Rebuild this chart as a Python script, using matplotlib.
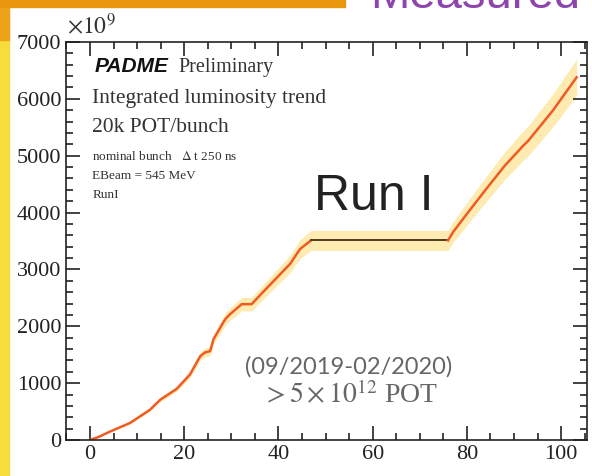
import matplotlib.pyplot as plt
import numpy as np
from matplotlib.patches import Rectangle
from matplotlib.ticker import MultipleLocator

plt.rcParams['font.family'] = ['Liberation Serif', 'DejaVu Serif']
plt.rcParams['mathtext.fontset'] = 'stix'

# integrated luminosity (x10^9 POT) vs time
days = [0, 2, 4.2, 8.5, 12.7, 14.9, 18.4, 21.2, 23.4, 24.4, 25.5, 26.2,
        28.7, 29.7, 32.2, 34.3, 36.7, 39.6, 42.5, 44.6, 46.9]
lumi = [0, 60, 147, 300, 530, 708, 900, 1150, 1474, 1540, 1563, 1770,
        2124, 2212, 2389, 2389, 2600, 2850, 3100, 3360, 3510]
# shutdown plateau
plateau_days = [46.9, 76.0]
plateau_lumi = [3510, 3510]
# restart
days2 = [76.0, 77.1, 80.5, 84.2, 88.0, 92.0, 93.0, 98.3, 103.3]
lumi2 = [3510, 3660, 4030, 4425, 4820, 5180, 5260, 5800, 6380]
rel_err = 0.05

fig = plt.figure(figsize=(5.92, 4.76), dpi=100)

# slide decoration
fig.patches.append(Rectangle((0, 0), 9 / 592, 1, transform=fig.transFigure,
                             color='#F8DC3C', zorder=0))
fig.patches.append(Rectangle((0, 1 - 40 / 476), 9 / 592, 40 / 476,
                             transform=fig.transFigure, color='#EEA21A', zorder=0))
fig.patches.append(Rectangle((0, 1 - 7 / 476), 345 / 592, 7 / 476,
                             transform=fig.transFigure, color='#E8960C', zorder=0))
fig.text(370 / 592, 1 - 8 / 476, 'Measured', color='#8E44AD', fontsize=34,
         family='Liberation Sans', ha='left', va='baseline')

ax = fig.add_axes([66 / 592, 36 / 476, 521 / 592, 398 / 476])

# error band over the full run
band_x = np.array(days + plateau_days + days2)
band_y = np.array(lumi + plateau_lumi + lumi2)
ax.fill_between(band_x, band_y * (1 - rel_err), band_y * (1 + rel_err),
                color='#FDEBB2', lw=0)

ax.plot(days, lumi, color='#F05A24', lw=1.8)
ax.plot(plateau_days, plateau_lumi, color='#4E4020', lw=1.4)
ax.plot(days2, lumi2, color='#F05A24', lw=1.8)

ax.set_xlim(-5.1, 105.5)
ax.set_ylim(0, 7000)
ax.xaxis.set_major_locator(MultipleLocator(20))
ax.xaxis.set_minor_locator(MultipleLocator(5))
ax.yaxis.set_major_locator(MultipleLocator(1000))
ax.yaxis.set_minor_locator(MultipleLocator(200))
ax.tick_params(which='both', direction='in', top=True, right=True, labelsize=16,
               width=1.2, colors='#222222')
ax.tick_params(which='major', length=10)
ax.tick_params(which='minor', length=5)
for s in ax.spines.values():
    s.set_linewidth(1.2)
    s.set_color('#222222')

ax.text(-4.8, 7060, r'$\times10^{9}$', fontsize=17, color='#333333', va='bottom')

ax.text(1, 6480, 'PADME', family='Liberation Sans', weight='bold', style='italic',
        fontsize=15, color='#111111', va='baseline')
ax.text(18.7, 6480, 'Preliminary', fontsize=14.5, color='#333333', va='baseline')
ax.text(0.5, 5930, 'Integrated luminosity trend', fontsize=15.5, color='#333333')
ax.text(0.5, 5410, '20k POT/bunch', fontsize=15.5, color='#333333')
ax.text(0.5, 4930, r'nominal bunch   $\Delta$ t 250 ns', fontsize=9.5, color='#333333')
ax.text(0.5, 4590, 'EBeam = 545 MeV', fontsize=9.5, color='#333333')
ax.text(0.5, 4250, 'RunI', fontsize=9.5, color='#333333')

ax.text(47.5, 4050, 'Run I', family='Liberation Sans', fontsize=36, color='#222222')
ax.text(33, 1170, '(09/2019-02/2020)', family='Lato', fontsize=17, color='#666666')
ax.text(36.5, 650, r'$>5\times10^{12}$ POT', fontsize=20, color='#666666')

fig.savefig('out.png', dpi=100)
